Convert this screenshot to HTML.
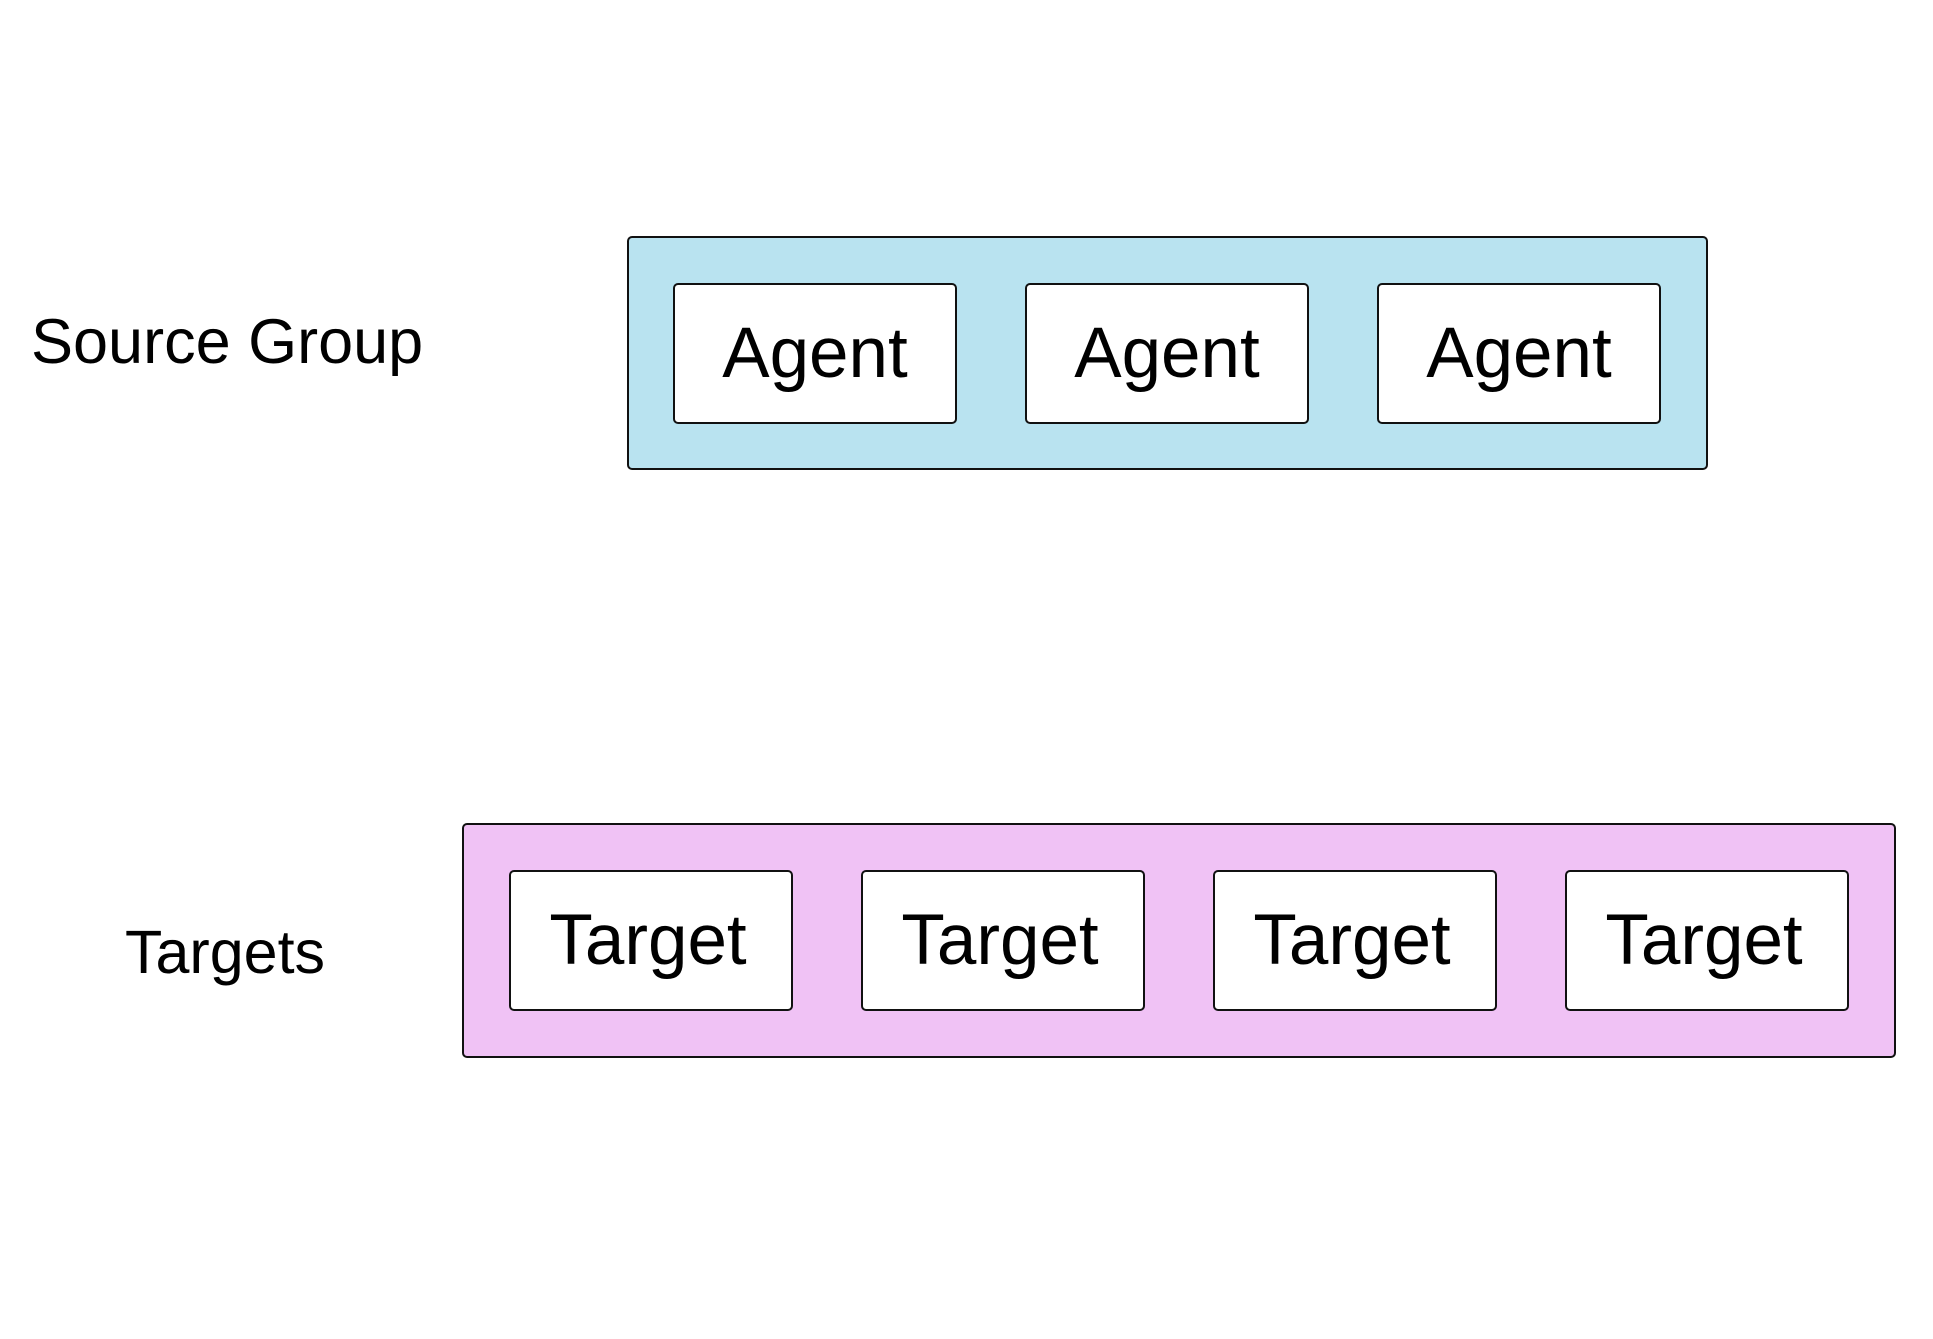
<!DOCTYPE html>
<html><head><style>
body{margin:0;width:1933px;height:1339px;background:#fff;position:relative;overflow:hidden;font-family:"Liberation Sans",Arial,sans-serif;}
.g{position:absolute;border:2px solid #111;border-radius:5px;box-sizing:border-box;}
.b{position:absolute;border:2px solid #111;border-radius:5px;background:#fff;box-sizing:border-box;display:flex;align-items:center;justify-content:center;font-size:71px;color:#000;}
.l{position:absolute;color:#000;white-space:nowrap;line-height:1;}
</style></head><body>
<div class="l" style="left:31px;top:311px;font-size:63px;">Source Group</div>
<div class="l" style="left:125px;top:922px;font-size:61px;">Targets</div>
<div class="g" style="left:627px;top:236px;width:1081px;height:234px;background:#b9e3f0;"></div>
<div class="b" style="left:673px;top:283px;width:284px;height:141px;">Agent</div>
<div class="b" style="left:1025px;top:283px;width:284px;height:141px;">Agent</div>
<div class="b" style="left:1377px;top:283px;width:284px;height:141px;">Agent</div>
<div class="g" style="left:462px;top:823px;width:1434px;height:235px;background:#f0c2f5;"></div>
<div class="b" style="left:509px;top:870px;width:284px;height:141px;padding-right:6px;">Target</div>
<div class="b" style="left:861px;top:870px;width:284px;height:141px;padding-right:6px;">Target</div>
<div class="b" style="left:1213px;top:870px;width:284px;height:141px;padding-right:6px;">Target</div>
<div class="b" style="left:1565px;top:870px;width:284px;height:141px;padding-right:6px;">Target</div>
</body></html>
